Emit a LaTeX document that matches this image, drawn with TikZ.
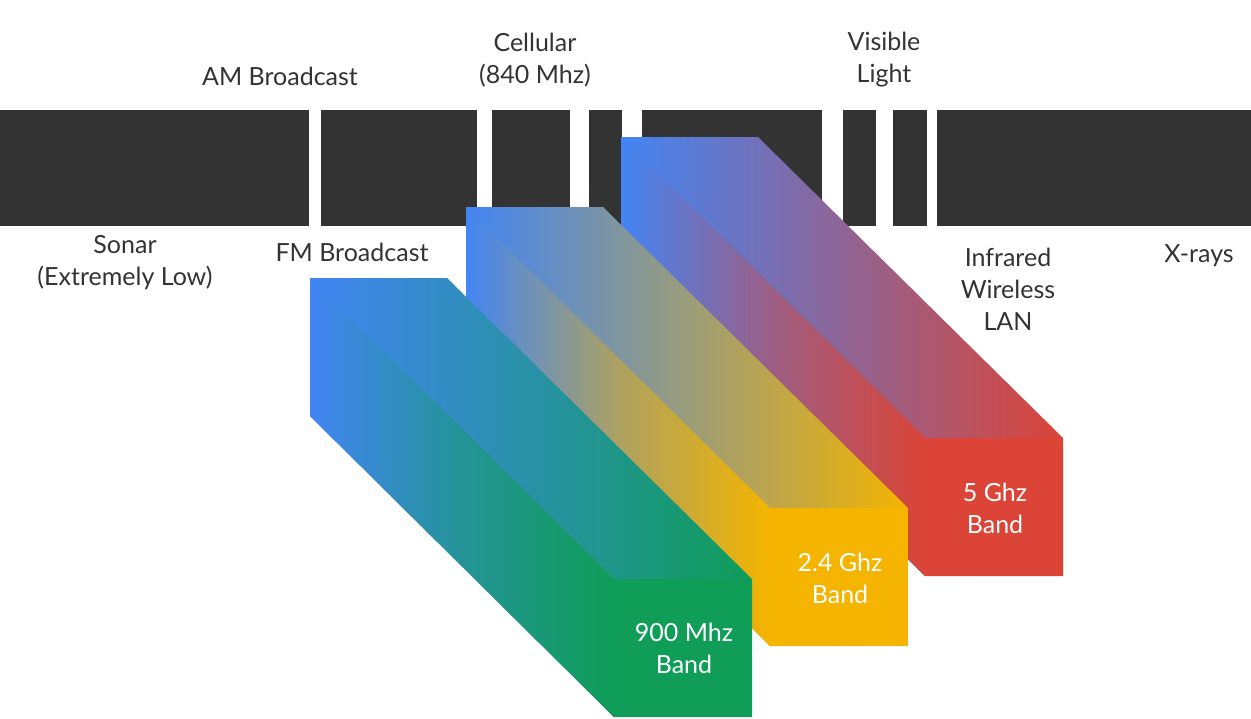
\documentclass[tikz,border=0pt]{standalone}
\usepackage{fontspec}
\setmainfont{Lato}
\definecolor{gblue}{HTML}{4285F4}
\definecolor{ggreen}{HTML}{0F9D58}
\definecolor{gyellow}{HTML}{F4B400}
\definecolor{gred}{HTML}{DB4437}
\definecolor{bar}{HTML}{333333}
\tikzset{
  lbl/.style={align=center,text=bar,font=\fontsize{25}{32}\selectfont},
  bandlbl/.style={align=center,text=white,font=\fontsize{25}{32}\selectfont},
  seg/.style={fill=bar}
}
\newcommand{\band}[3]{% x0, y0, colour
  \shade[left color=gblue,right color=#3] (#1,#2) -- ++(137,0) -- ++(305,301) -- ++(0,138) -- ++(-138,0) -- ++(-304,-301) -- cycle;
  \shade[left color=gblue,right color=#3,middle color=gblue!40!#3] (#1,#2) -- ++(304,301) -- ++(0,138) -- ++(-304,-301) -- cycle;
  \fill[#3] (#1+304,#2+301) rectangle ++(138,138);
}
\begin{document}
\begin{tikzpicture}[x=1pt,y=-1pt]
\useasboundingbox (0,0) rectangle (1251,718);
\foreach \a/\b in {0/309,321/477,492/570,589/622,642/822,843/876,893/927,937/1251}
  \fill[seg] (\a,110) rectangle (\b,226);
\band{621}{137}{gred}
\band{466}{207}{gyellow}
\band{310}{278}{ggreen}
\node[lbl] (am) at (280,76) {AM Broadcast};
\node[lbl] (cell) at (535,60) {Cellular\\(840 Mhz)};
\node[lbl] (vis) at (884,60) {Visible\\Light};
\node[lbl] (sonar) at (125,263) {Sonar\\(Extremely Low)};
\node[lbl] (fm) at (352,252) {FM Broadcast};
\node[lbl] (ir) at (1008,289) {Infrared\\Wireless\\LAN};
\node[lbl] (xr) at (1199,256) {X-rays};
\node[bandlbl] (b900) at (684,648) {900 Mhz\\Band};
\node[bandlbl] (b24) at (840,578) {2.4 Ghz\\Band};
\node[bandlbl] (b5) at (995,508) {5 Ghz\\Band};
\end{tikzpicture}
\end{document}
